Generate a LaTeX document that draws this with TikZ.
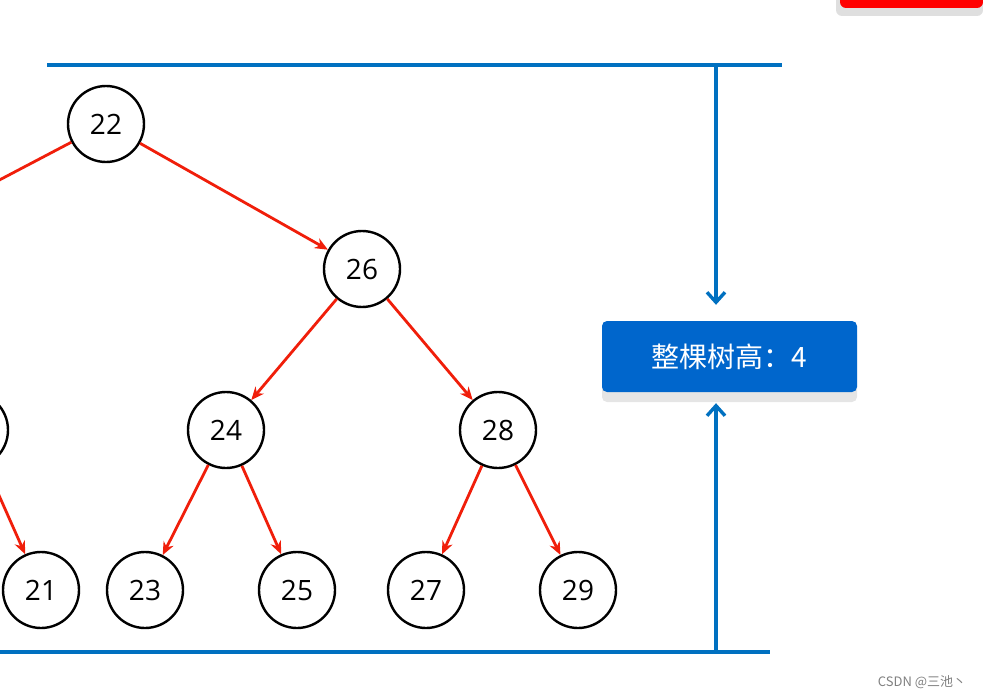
\documentclass[tikz,border=0pt]{standalone}
\usepackage{fontspec}
\setmainfont{Open Sans}
\newfontfamily\cjk{Noto Sans CJK SC}
\usetikzlibrary{arrows.meta}
\definecolor{treeblue}{RGB}{0,112,192}
\definecolor{boxblue}{RGB}{0,102,204}
\definecolor{edgered}{RGB}{240,30,10}
\tikzset{
    tnode/.style = {draw, circle, line width=2.4pt, minimum size=76pt, inner sep=0pt,
        font=\fontsize{28}{32}\selectfont},
    tedge/.style = {draw=edgered, line width=2.8pt, -{Stealth[length=13pt,width=11pt]}},
    hline/.style = {treeblue, line width=3.4pt},
    harrow/.style = {treeblue, line width=3.4pt, -{Straight Barb[length=10pt,width=18pt]}}
}
\begin{document}
\begin{tikzpicture}[x=1pt,y=-1pt]
\useasboundingbox (0,0) rectangle (983,698);
\clip (0,0) rectangle (983,698);
% top corner button
\fill[gray!25, rounded corners=6pt] (836,-20) rectangle (983,16);
\fill[red, rounded corners=6pt] (840,-20) rectangle (983,8);
% tree
\node[tnode] (n22) at (106,124) {22};
\node[tnode] (n26) at (362,269) {26};
\node[tnode] (n18) at (-170,269) {};
\node[tnode] (n20) at (-30,430) {};
\node[tnode] (n24) at (226,430) {24};
\node[tnode] (n28) at (498,430) {28};
\node[tnode] (n21) at (41,590) {21};
\node[tnode] (n23) at (145,590) {23};
\node[tnode] (n25) at (297,590) {25};
\node[tnode] (n27) at (426,590) {27};
\node[tnode] (n29) at (578,590) {29};
\draw[tedge] (n22) -- (n18);
\draw[tedge] (n22) -- (n26);
\draw[tedge] (n26) -- (n24);
\draw[tedge] (n26) -- (n28);
\draw[tedge] (n20) -- (n21);
\draw[tedge] (n24) -- (n23);
\draw[tedge] (n24) -- (n25);
\draw[tedge] (n28) -- (n27);
\draw[tedge] (n28) -- (n29);
% height marker
\coordinate (tl) at (47,65);
\coordinate (tr) at (782,65);
\coordinate (bl) at (0,652);
\coordinate (br) at (770,652);
\coordinate (ttop) at (716,65);
\coordinate (tbot) at (716,652);
\draw[hline] (tl) -- (tr);
\draw[hline] (bl) -- (br);
\fill[gray!20, rounded corners=5pt] (602,330) rectangle (857,402);
\node[fill=boxblue, rounded corners=5pt, minimum width=255pt, minimum height=71pt,
      text=white, font=\cjk\fontsize{28}{32}\selectfont] (height) at (729.5,356.5) {整棵树高：4};
\draw[harrow] (ttop) -- ([yshift=16pt]height.north -| ttop);
\draw[harrow] (tbot) -- ([yshift=-11pt]height.south -| tbot);
\node[text=gray, font=\cjk\fontsize{13}{15}\selectfont] (mark) at (922,682) {CSDN @三池丶};
\end{tikzpicture}
\end{document}
